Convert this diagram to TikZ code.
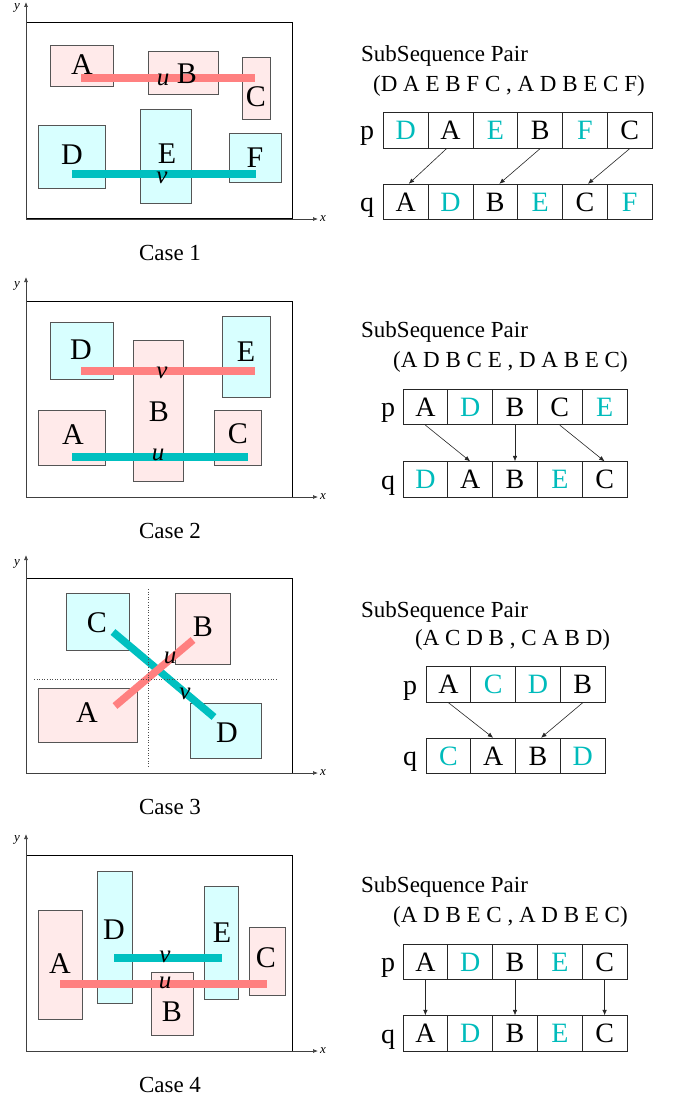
\documentclass[tikz,border=0pt]{standalone}
\usepackage{fontspec}
\setmainfont{Liberation Serif}
\usetikzlibrary{arrows.meta,fit}
\definecolor{pinkfill}{RGB}{255,234,234}
\definecolor{cyanfill}{RGB}{216,255,255}
\definecolor{boxline}{RGB}{85,85,85}
\definecolor{redbar}{RGB}{255,128,128}
\definecolor{cyanbar}{RGB}{0,192,192}
\definecolor{cyantext}{RGB}{0,187,187}
\tikzset{
  pinkbox/.style={draw=boxline, line width=0.9pt, fill=pinkfill, inner sep=0pt},
  cyanbox/.style={draw=boxline, line width=0.9pt, fill=cyanfill, inner sep=0pt},
  frame/.style={draw=black, line width=1pt},
  axis/.style={draw=black!75, line width=0.7pt, -{Latex[length=5pt,width=4pt]}},
  axlbl/.style={font=\fontsize{13}{14}\selectfont\itshape, inner sep=0pt},
  blbl/.style={font=\fontsize{30}{31}\selectfont, inner sep=0pt, text height=19.8pt, text depth=0pt},
  uvlbl/.style={font=\fontsize{25}{26}\selectfont\itshape, inner sep=0pt, text height=11.2pt, text depth=0pt},
  rbar/.style={draw=redbar, line width=7.5pt},
  cbar/.style={draw=cyanbar, line width=7.5pt},
  guide/.style={draw=black!70, line width=0.6pt, dotted},
  txt/.style={font=\fontsize{23}{25}\selectfont, inner sep=0pt},
  cell/.style={draw=black!85, line width=0.8pt, minimum width=44.8pt, minimum height=35.5pt, inner sep=0pt, font=\fontsize{28}{29}\selectfont},
  pq/.style={font=\fontsize{28}{29}\selectfont, inner sep=0pt, anchor=base},
  link/.style={draw=black!85, line width=0.6pt, -{Latex[length=5.5pt,width=4.5pt]}}
}
\newcommand\seqrow[4]{%
  \foreach \col/\ch [count=\i] in {#4} {
    \node[cell, text=\col] (#1\i) at ({#2+22.4+(\i-1)*44.8},#3) {\ch};
  }}
\begin{document}
\begin{tikzpicture}[x=1pt,y=-1pt]
\useasboundingbox (0,0) rectangle (681,1099);

% ================= CASE 1 =================
\node[frame, fit={(26,23) (292,219)}, inner sep=0pt] (f1) {};
\coordinate (o1) at (26,219);
\coordinate (xe1) at (318,219);
\coordinate (ye1) at (26,2);
\draw[axis] (o1) -- (xe1);
\draw[axis] (o1) -- (ye1);
\node[axlbl] (xl1) at (323,219) {x};
\node[axlbl] (yl1) at (17,8) {y};
\node[pinkbox, fit={(50,45) (113,86)}] (c1A) {};
\node[pinkbox, fit={(148,51) (218,94)}] (c1B) {};
\node[pinkbox, fit={(242,57) (270,119)}] (c1C) {};
\node[cyanbox, fit={(38,125) (105,188)}] (c1D) {};
\node[cyanbox, fit={(140,109) (191,203)}] (c1E) {};
\node[cyanbox, fit={(229,133) (281,182)}] (c1F) {};
\draw[rbar] (81,78) -- (255,78);
\draw[cbar] (72,174) -- (256,174);
\node[blbl] (l1A) at (82,65) {A};
\node[blbl] (l1B) at (187,74) {B};
\node[blbl] (l1C) at (256,97) {C};
\node[blbl] (l1D) at (72,155) {D};
\node[blbl] (l1E) at (167,154) {E};
\node[blbl] (l1F) at (255,158) {F};
\node[uvlbl] (l1u) at (163,80) {u};
\node[uvlbl] (l1v) at (162,178) {v};
\node[txt, anchor=base] (case1) at (170,260.5) {Case 1};

\node[txt, anchor=base west] (sp1) at (361,61.5) {SubSequence Pair};
\node[txt, anchor=base west] (sq1) at (373,91.5) {(D A E B F C , A D B E C F)};
\seqrow{p1-}{383.3}{130.5}{cyantext/D,black/A,cyantext/E,black/B,cyantext/F,black/C}
\seqrow{q1-}{383.3}{202}{black/A,cyantext/D,black/B,cyantext/E,black/C,cyantext/F}
\node[pq] (p1) at (367,140) {p};
\node[pq] (q1) at (367,211.5) {q};
\draw[link] ([xshift=-4pt]p1-2.south) -- ([xshift=3pt]q1-1.north);
\draw[link] (p1-4.south) -- ([xshift=4pt]q1-3.north);
\draw[link] (p1-6.south) -- ([xshift=3pt]q1-5.north);

% ================= CASE 2 =================
\node[frame, fit={(26,301) (292,497)}, inner sep=0pt] (f2) {};
\coordinate (o2) at (26,497);
\coordinate (xe2) at (318,497);
\coordinate (ye2) at (26,277);
\draw[axis] (o2) -- (xe2);
\draw[axis] (o2) -- (ye2);
\node[axlbl] (xl2) at (323,497) {x};
\node[axlbl] (yl2) at (17,286) {y};
\node[cyanbox, fit={(50,322) (113,379)}] (c2D) {};
\node[pinkbox, fit={(133,340) (183,481)}] (c2B) {};
\node[cyanbox, fit={(222,316) (270,397)}] (c2E) {};
\node[pinkbox, fit={(38,410) (105,465)}] (c2A) {};
\node[pinkbox, fit={(214,410) (261,465)}] (c2C) {};
\draw[rbar] (81,371) -- (255,371);
\draw[cbar] (72,457) -- (248,457);
\node[blbl] (l2D) at (81,350) {D};
\node[blbl] (l2E) at (246,352) {E};
\node[blbl] (l2B) at (159,412) {B};
\node[blbl] (l2A) at (73,435) {A};
\node[blbl] (l2C) at (238,434) {C};
\node[uvlbl] (l2v) at (162,373) {v};
\node[uvlbl] (l2u) at (158,455) {u};
\node[txt, anchor=base] (case2) at (170,538) {Case 2};

\node[txt, anchor=base west] (sp2) at (361,337) {SubSequence Pair};
\node[txt, anchor=base west] (sq2) at (393,367.5) {(A D B C E , D A B E C)};
\seqrow{p2-}{403}{407}{black/A,cyantext/D,black/B,black/C,cyantext/E}
\seqrow{q2-}{403}{479.5}{cyantext/D,black/A,black/B,cyantext/E,black/C}
\node[pq] (p2) at (388,416.5) {p};
\node[pq] (q2) at (388,489) {q};
\draw[link] (p2-1.south) -- (q2-2.north);
\draw[link] (p2-3.south) -- (q2-3.north);
\draw[link] (p2-4.south) -- (q2-5.north);

% ================= CASE 3 =================
\node[frame, fit={(26,578) (292,773)}, inner sep=0pt] (f3) {};
\coordinate (o3) at (26,773);
\coordinate (xe3) at (318,773);
\coordinate (ye3) at (26,555);
\draw[axis] (o3) -- (xe3);
\draw[axis] (o3) -- (ye3);
\node[axlbl] (xl3) at (323,773) {x};
\node[axlbl] (yl3) at (17,564) {y};
\node[cyanbox, fit={(66,593) (129,650)}] (c3C) {};
\node[pinkbox, fit={(175,593) (230,664)}] (c3B) {};
\node[pinkbox, fit={(38,688) (137,742)}] (c3A) {};
\node[cyanbox, fit={(190,703) (261,758)}] (c3D) {};
\draw[cbar] (113,632) -- (214,717);
\draw[rbar] (115,706) -- (193,640);
\coordinate (g3t) at (148,589);
\coordinate (g3b) at (148,766);
\coordinate (g3l) at (34,679);
\coordinate (g3r) at (276,679);
\draw[guide] (g3t) -- (g3b);
\draw[guide] (g3l) -- (g3r);
\node[blbl] (l3C) at (97,623) {C};
\node[blbl] (l3B) at (203,627) {B};
\node[blbl] (l3A) at (87,713) {A};
\node[blbl] (l3D) at (227,733) {D};
\node[uvlbl] (l3u) at (170,658) {u};
\node[uvlbl] (l3v) at (185,694) {v};
\node[txt, anchor=base] (case3) at (170,814) {Case 3};

\node[txt, anchor=base west] (sp3) at (361,617) {SubSequence Pair};
\node[txt, anchor=base west] (sq3) at (415,645) {(A C D B , C A B D)};
\seqrow{p3-}{426}{684.5}{black/A,cyantext/C,cyantext/D,black/B}
\seqrow{q3-}{426}{756}{cyantext/C,black/A,black/B,cyantext/D}
\node[pq] (p3) at (410,694) {p};
\node[pq] (q3) at (410,765.5) {q};
\draw[link] (p3-1.south) -- (q3-2.north);
\draw[link] (p3-4.south) -- ([xshift=3pt]q3-3.north);

% ================= CASE 4 =================
\node[frame, fit={(26,855) (292,1051)}, inner sep=0pt] (f4) {};
\coordinate (o4) at (26,1051);
\coordinate (xe4) at (318,1051);
\coordinate (ye4) at (26,834);
\draw[axis] (o4) -- (xe4);
\draw[axis] (o4) -- (ye4);
\node[axlbl] (xl4) at (323,1051) {x};
\node[axlbl] (yl4) at (17,840) {y};
\node[pinkbox, fit={(38,910) (82,1019)}] (c4A) {};
\node[cyanbox, fit={(97,871) (132,1003)}] (c4D) {};
\node[pinkbox, fit={(151,972) (193,1035)}] (c4B) {};
\node[cyanbox, fit={(204,886) (238,999)}] (c4E) {};
\node[pinkbox, fit={(249,927) (285,995)}] (c4C) {};
\draw[cbar] (114,958) -- (222,958);
\draw[rbar] (60,984) -- (267,984);
\node[blbl] (l4D) at (114,930) {D};
\node[blbl] (l4E) at (222,933) {E};
\node[blbl] (l4A) at (60,964) {A};
\node[blbl] (l4C) at (266,958) {C};
\node[blbl] (l4B) at (172,1012) {B};
\node[uvlbl] (l4v) at (165,957) {v};
\node[uvlbl] (l4u) at (165,983) {u};
\node[txt, anchor=base] (case4) at (170,1092) {Case 4};

\node[txt, anchor=base west] (sp4) at (361,892) {SubSequence Pair};
\node[txt, anchor=base west] (sq4) at (393,922) {(A D B E C , A D B E C)};
\seqrow{p4-}{403}{962}{black/A,cyantext/D,black/B,cyantext/E,black/C}
\seqrow{q4-}{403}{1033.5}{black/A,cyantext/D,black/B,cyantext/E,black/C}
\node[pq] (p4) at (388,971.5) {p};
\node[pq] (q4) at (388,1043) {q};
\draw[link] (p4-1.south) -- (q4-1.north);
\draw[link] (p4-3.south) -- (q4-3.north);
\draw[link] (p4-5.south) -- (q4-5.north);
\end{tikzpicture}
\end{document}
